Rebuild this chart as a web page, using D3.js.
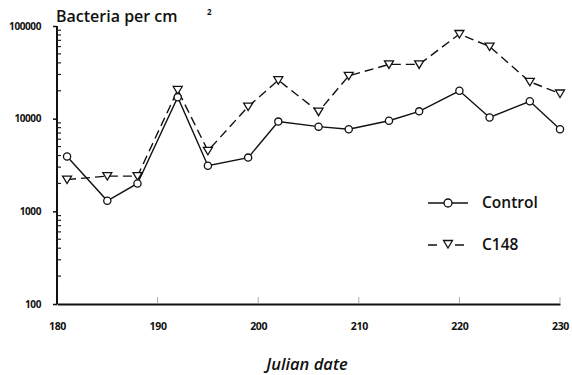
<!DOCTYPE html>
<html>
<head>
<meta charset="utf-8">
<script src="https://cdn.jsdelivr.net/npm/d3@7"></script>
<style>
  body { margin: 0; background: #fff; }
  svg { display: block; }
  text { font-family: "Open Sans", "DejaVu Sans", sans-serif; fill: #111; }
</style>
</head>
<body>
<svg id="svg1" width="572" height="375"></svg>
<script>
// julian days sampled
var days = [181, 185, 188, 192, 195, 199, 202, 206, 209, 213, 216, 220, 223, 227, 230];
// bacteria per cm2
var control = [3900, 1300, 2000, 17000, 3100, 3800, 9300, 8200, 7700, 9500, 12000, 20000, 10300, 15400, 7700];
var c148 = [2200, 2400, 2400, 20400, 4500, 13500, 26000, 11900, 29000, 38500, 38500, 82000, 60000, 25000, 18700];
var xTicks = [180, 190, 200, 210, 220, 230];
var yTicks = [100, 1000, 10000, 100000];

var svg = d3.select('#svg1');

var x = d3.scaleLinear().domain([180, 230]).range([57, 560]);
var y = d3.scaleLog().domain([100, 100000]).range([304, 26]);

// x axis: plain line, labels below, faint ticks up
var xAxis = d3.axisBottom(x).tickValues(xTicks).tickSize(0).tickPadding(26);
var gx = svg.append('g').attr('transform', 'translate(0,304)').call(xAxis);
gx.select('.domain').attr('stroke', '#111').attr('stroke-width', 2);
gx.selectAll('text').attr('font-size', 10.5).attr('font-weight', 'bold').attr('dy', 0)
    .attr('letter-spacing', -0.3);
svg.selectAll('.xt').data(xTicks.slice(1)).enter().append('line')
    .attr('x1', function(d){ return x(d); }).attr('x2', function(d){ return x(d); })
    .attr('y1', 303).attr('y2', 297)
    .attr('stroke', '#aaa').attr('stroke-width', 1);

var yAxis = d3.axisLeft(y).tickValues(yTicks).tickFormat(d3.format('d')).tickSize(4).tickPadding(12);
var gy = svg.append('g').attr('transform', 'translate(57,0)').call(yAxis);
gy.select('.domain').attr('stroke', '#111').attr('stroke-width', 2).attr('d', 'M0,26V304');
gy.selectAll('line').attr('stroke', '#111').attr('stroke-width', 1.5);
gy.selectAll('text').attr('font-size', 10).attr('font-weight', 'bold').attr('letter-spacing', -0.4);

// minor log ticks
var minor = [];
[100, 1000, 10000].forEach(function(b){ for (var k = 2; k <= 9; k++) minor.push(b * k); });
svg.selectAll('.mt').data(minor).enter().append('line')
    .attr('x1', 57).attr('x2', 61)
    .attr('y1', function(d){ return y(d); }).attr('y2', function(d){ return y(d); })
    .attr('stroke', '#222').attr('stroke-width', 1.2);

var line = d3.line()
    .x(function(d){ return x(d[0]); })
    .y(function(d){ return y(d[1]); });

var ctrlPts = days.map(function(d, i){ return [d, control[i]]; });
var c148Pts = days.map(function(d, i){ return [d, c148[i]]; });

svg.append('path').datum(c148Pts)
    .attr('d', line).attr('fill', 'none')
    .attr('stroke', '#111').attr('stroke-width', 1.4)
    .attr('stroke-dasharray', '9,5');

svg.append('path').datum(ctrlPts)
    .attr('d', line).attr('fill', 'none')
    .attr('stroke', '#111').attr('stroke-width', 1.4);

var tri = 'M-4.5,-3.5L4.5,-3.5L0,4Z';

svg.selectAll('.tri').data(c148Pts).enter().append('path')
    .attr('d', tri)
    .attr('transform', function(d){ return 'translate(' + x(d[0]) + ',' + y(d[1]) + ')'; })
    .attr('fill', '#fff').attr('stroke', '#111').attr('stroke-width', 1.3);

svg.selectAll('.circ').data(ctrlPts).enter().append('circle')
    .attr('cx', function(d){ return x(d[0]); })
    .attr('cy', function(d){ return y(d[1]); })
    .attr('r', 3.6)
    .attr('fill', '#fff').attr('stroke', '#111').attr('stroke-width', 1.3);

// title
svg.append('text').attr('x', 56).attr('y', 22)
    .attr('font-size', 16).attr('font-weight', 600).text('Bacteria per cm');
svg.append('text').attr('x', 207).attr('y', 15).attr('font-size', 8)
    .attr('font-weight', 'bold').text('2');

// x label
svg.append('text').attr('x', 307).attr('y', 370)
    .attr('text-anchor', 'middle').attr('font-size', 16.5)
    .attr('font-weight', 600).attr('font-style', 'italic')
    .text('Julian date');

// legend
var legend = svg.append('g');
legend.append('line').attr('x1', 428).attr('x2', 468).attr('y1', 203).attr('y2', 203)
    .attr('stroke', '#111').attr('stroke-width', 1.4);
legend.append('circle').attr('cx', 448).attr('cy', 203).attr('r', 4)
    .attr('fill', '#fff').attr('stroke', '#111').attr('stroke-width', 1.3);
legend.append('text').attr('x', 482).attr('y', 208).attr('font-size', 15.5)
    .attr('font-weight', 600).text('Control');

legend.append('line').attr('x1', 428).attr('x2', 468).attr('y1', 245).attr('y2', 245)
    .attr('stroke', '#111').attr('stroke-width', 1.4).attr('stroke-dasharray', '9,18');
legend.append('path').attr('d', tri)
    .attr('transform', 'translate(448,244)')
    .attr('fill', '#fff').attr('stroke', '#111').attr('stroke-width', 1.3);
legend.append('text').attr('x', 482).attr('y', 250).attr('font-size', 15.5)
    .attr('font-weight', 600).text('C148');
</script>
</body>
</html>
